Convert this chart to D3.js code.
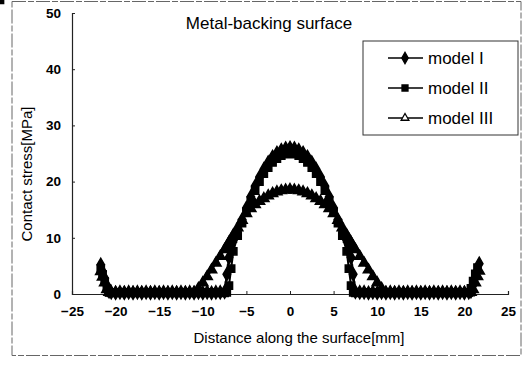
<!DOCTYPE html>
<html>
<head>
<meta charset="utf-8">
<script src="https://cdn.jsdelivr.net/npm/d3@7"></script>
<style>
  html, body { margin: 0; background: #fff; overflow: hidden; }
  svg { display: block; font-family: "Liberation Sans", Arial, sans-serif; }
</style>
</head>
<body>
<svg></svg>
<script>
// distance along the surface [mm]
let xs = [-21.7, -21.5, -21.25, -21, -20.75, -20.5, -20, -19.5, -19, -18.5, -18, -17.5, -17, -16.5, -16, -15.5, -15, -14.5, -14, -13.5, -13, -12.5, -12, -11.5, -11, -10.5, -10, -9.5, -9, -8.5, -8, -7.5, -7.25, -7, -6.75, -6.5, -6, -5.5, -5, -4.5, -4, -3.5, -3, -2.5, -2, -1.5, -1, -0.5,
  0,
  0.5, 1, 1.5, 2, 2.5, 3, 3.5, 4, 4.5, 5, 5.5, 6, 6.5, 6.75, 7, 7.25, 7.5, 8, 8.5, 9, 9.5, 10, 10.5, 11, 11.5, 12, 12.5, 13, 13.5, 14, 14.5, 15, 15.5, 16, 16.5, 17, 17.5, 18, 18.5, 19, 19.5, 20, 20.5, 20.75, 21, 21.25, 21.5, 21.7]

// contact stress [MPa]
let model1 = [5.2, 4.0, 2.8, 1.5, 0.5, 0.3, 0.2, 0.3, 0.2, 0.3, 0.2, 0.3, 0.2, 0.3, 0.2, 0.3, 0.2, 0.3, 0.2, 0.3, 0.2, 0.3, 0.2, 0.3, 0.2, 0.3, 0.2, 0.3, 0.2, 0.3, 0.3, 0.4, 3.5, 6.5, 8.0, 9.5, 11.3, 13.2, 15.3, 17.3, 19.2, 20.8, 22.2, 23.4, 24.4, 25.1, 25.6, 25.9,
  26.0,
  25.9, 25.6, 25.1, 24.4, 23.4, 22.2, 20.8, 19.2, 17.3, 15.3, 13.2, 11.3, 9.5, 8.0, 6.5, 3.5, 0.4, 0.3, 0.3, 0.2, 0.3, 0.2, 0.3, 0.2, 0.3, 0.2, 0.3, 0.2, 0.3, 0.2, 0.3, 0.2, 0.3, 0.2, 0.3, 0.2, 0.3, 0.2, 0.3, 0.2, 0.3, 0.2, 0.3, 0.5, 1.6, 2.9, 4.2, 5.4]

let model2 = [4.5, 3.5, 2.2, 1.0, 0.3, 0.2, 0.3, 0.2, 0.3, 0.2, 0.3, 0.2, 0.3, 0.2, 0.3, 0.2, 0.3, 0.2, 0.3, 0.2, 0.3, 0.2, 0.3, 0.2, 0.3, 0.2, 0.3, 0.2, 0.3, 0.2, 0.3, 0.2, 0.3, 1.5, 4.5, 7.6, 10.4, 12.6, 14.6, 16.6, 18.4, 20.0, 21.4, 22.5, 23.4, 24.1, 24.6, 24.9,
  25.0,
  24.9, 24.6, 24.1, 23.4, 22.5, 21.4, 20.0, 18.4, 16.6, 14.6, 12.6, 10.4, 7.6, 4.5, 1.5, 0.3, 0.2, 0.3, 0.2, 0.3, 0.2, 0.3, 0.2, 0.3, 0.2, 0.3, 0.2, 0.3, 0.2, 0.3, 0.2, 0.3, 0.2, 0.3, 0.2, 0.3, 0.2, 0.3, 0.2, 0.3, 0.2, 0.3, 0.3, 1.0, 2.3, 3.6, 4.7]

let model3 = [4.0, 3.0, 2.0, 0.8, 0.3, 0.2, 0.3, 0.2, 0.3, 0.2, 0.3, 0.2, 0.3, 0.2, 0.3, 0.2, 0.3, 0.2, 0.3, 0.2, 0.3, 0.2, 0.3, 0.2, 0.3, 1.0, 2.0, 3.1, 4.3, 5.5, 6.7, 7.9, 8.5, 9.2, 9.8, 10.5, 11.8, 13.1, 14.3, 15.2, 15.9, 16.5, 17.0, 17.5, 17.9, 18.2, 18.4, 18.5,
  18.6,
  18.5, 18.4, 18.2, 17.9, 17.5, 17.0, 16.5, 15.9, 15.2, 14.3, 13.1, 11.8, 10.5, 9.8, 9.2, 8.5, 7.9, 6.7, 5.5, 4.3, 3.1, 2.0, 1.0, 0.3, 0.2, 0.3, 0.2, 0.3, 0.2, 0.3, 0.2, 0.3, 0.2, 0.3, 0.2, 0.3, 0.2, 0.3, 0.2, 0.3, 0.2, 0.3, 0.2, 0.3, 0.8, 2.0, 3.1, 4.1]

let seriesNames = ['model I', 'model II', 'model III']
let xTicks = [-25, -20, -15, -10, -5, 0, 5, 10, 15, 20, 25]
let yTicks = [0, 10, 20, 30, 40, 50]

let width = 525
let height = 365

let svg = d3.select('svg')
    .attr('width', width)
    .attr('height', height)

// scanned frame around the chart
svg.append('rect')
    .attr('x', 12).attr('y', 1.5)
    .attr('width', 509).attr('height', 354)
    .attr('fill', 'none')
    .attr('stroke', '#666')
    .attr('stroke-width', 1)
    .attr('stroke-dasharray', '14,2,6,2')

let xScale = d3.scaleLinear().domain([-25, 25]).range([72, 508])
let yScale = d3.scaleLinear().domain([0, 50]).range([294, 13])

// axes
let xAxis = d3.axisBottom(xScale).tickValues(xTicks).tickSize(-3).tickPadding(12)
    .tickFormat(d => d < 0 ? '\u2212' + Math.abs(d) : d)
svg.append('g')
    .attr('transform', 'translate(0,294)')
    .call(xAxis)

let yAxis = d3.axisLeft(yScale).tickValues(yTicks).tickSize(-3).tickPadding(11)
svg.append('g')
    .attr('transform', 'translate(72,0)')
    .call(yAxis)

svg.selectAll('.domain').attr('stroke', '#222').attr('stroke-width', 1.2)
svg.selectAll('.tick line').attr('stroke', '#222')
svg.selectAll('.tick text')
    .attr('fill', '#000')
    .style('font-size', '13.5px')
    .style('font-weight', 'bold')

// series
let symbols = [d3.symbolDiamond, d3.symbolSquare, d3.symbolTriangle]
let symSizes = [48, 52, 46]
let allSeries = [model1, model2, model3]

let line = d3.line()
    .x(d => xScale(d[0]))
    .y(d => yScale(d[1]))

allSeries.forEach((vals, i) => {
    let pts = xs.map((x, j) => [x, vals[j]])
    let g = svg.append('g')
    g.append('path')
        .attr('d', line(pts))
        .attr('fill', 'none')
        .attr('stroke', '#000')
        .attr('stroke-width', 2)
    g.selectAll('path.pt')
        .data(pts)
        .enter()
        .append('path')
        .attr('class', 'pt')
        .attr('transform', d => 'translate(' + xScale(d[0]) + ',' + yScale(d[1]) + ')')
        .attr('d', d3.symbol().type(symbols[i]).size(symSizes[i]))
        .attr('fill', '#000')
        .attr('stroke', '#000')
        .attr('stroke-width', 1.5)
})

// title
svg.append('text')
    .attr('x', 269).attr('y', 29)
    .attr('text-anchor', 'middle')
    .style('font-size', '17px')
    .text('Metal-backing surface')

// axis titles
svg.append('text')
    .attr('x', 299).attr('y', 343)
    .attr('text-anchor', 'middle')
    .style('font-size', '15px')
    .text('Distance along the surface[mm]')

svg.append('text')
    .attr('transform', 'translate(32,174) rotate(-90)')
    .attr('text-anchor', 'middle')
    .style('font-size', '15px')
    .text('Contact stress[MPa]')

// legend
let legend = svg.append('g')
legend.append('rect')
    .attr('x', 363).attr('y', 41)
    .attr('width', 155).attr('height', 94)
    .attr('fill', '#fff')
    .attr('stroke', '#333')
    .attr('stroke-width', 1)

seriesNames.forEach((name, i) => {
    let ly = 58 + i * 30
    legend.append('line')
        .attr('x1', 388).attr('x2', 423)
        .attr('y1', ly).attr('y2', ly)
        .attr('stroke', '#000').attr('stroke-width', 1.5)
    legend.append('path')
        .attr('transform', 'translate(405,' + ly + ')')
        .attr('d', d3.symbol().type(symbols[i]).size(i == 2 ? 26 : 36))
        .attr('fill', i == 2 ? '#fff' : '#000')
        .attr('stroke', '#000')
        .attr('stroke-width', 1.3)
    legend.append('text')
        .attr('x', 428).attr('y', ly + 6)
        .style('font-size', '17px')
        .text(name)
})
</script>
</body>
</html>
